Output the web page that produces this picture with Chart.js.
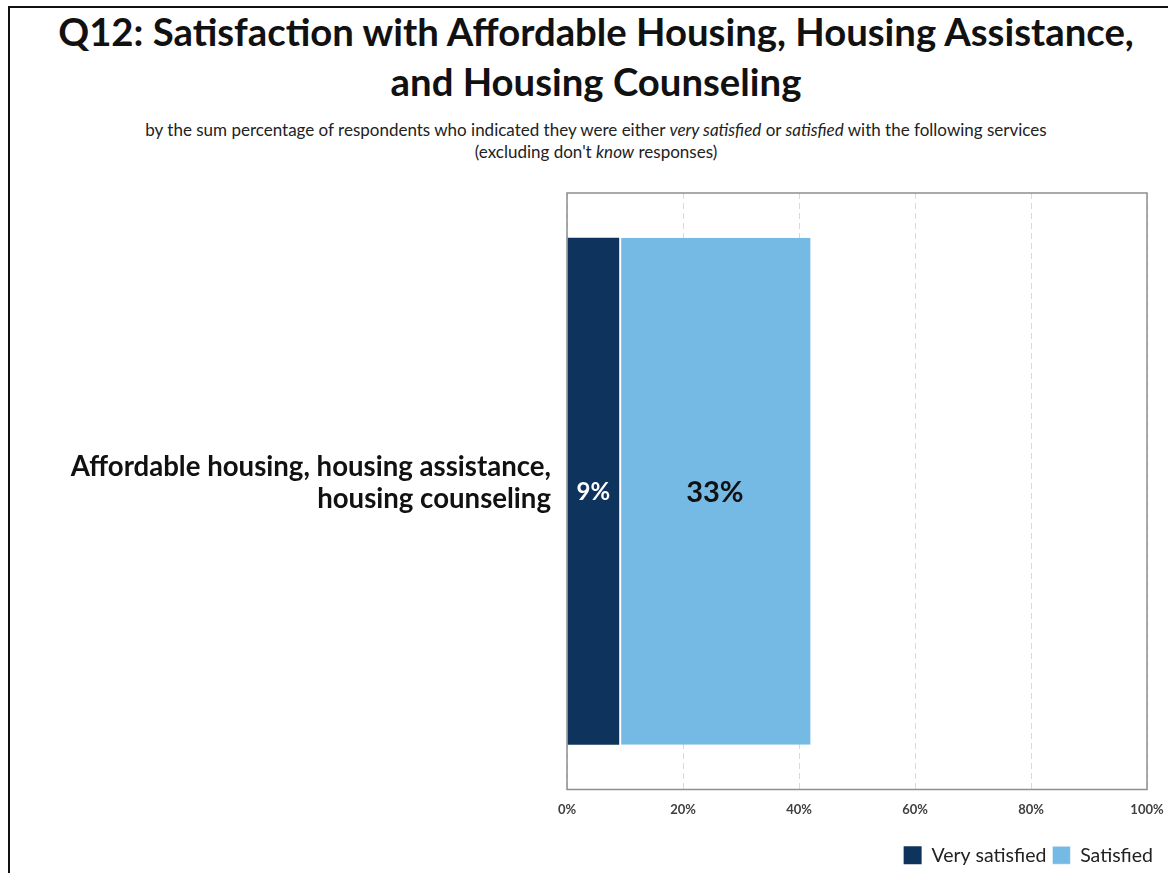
<!DOCTYPE html>
<html>
<head>
<meta charset="utf-8">
<script src="https://cdn.jsdelivr.net/npm/chart.js@4"></script>
<style>
  html, body { margin: 0; padding: 0; background: #fff; overflow: hidden; }
  body { width: 1168px; height: 873px; position: relative; font-family: Lato, "Open Sans", sans-serif; }
  .frame {
    position: absolute; left: 8px; top: 6px; width: 1176px; height: 900px;
    border-top: 2px solid #111; border-left: 2px solid #111; box-sizing: border-box;
  }
  .title {
    position: absolute; left: 8px; width: 1176px; top: 6px; text-align: center;
    font-weight: bold; font-size: 38.3px; line-height: 50px; color: #111;
  }
  .subtitle {
    position: absolute; left: 8px; width: 1176px; top: 119px; text-align: center;
    font-size: 17px; line-height: 22px; color: #222;
  }
  #wrap { position: absolute; left: 0; top: 0; width: 1168px; height: 873px; }
</style>
</head>
<body>
<div class="frame"></div>
<div class="title">Q12: Satisfaction with Affordable Housing, Housing Assistance,<br>and Housing Counseling</div>
<div class="subtitle">by the sum percentage of respondents who indicated they were either <i>very satisfied</i> or <i>satisfied</i> with the following services<br>(excluding don't <i>know</i> responses)</div>
<div id="wrap"><canvas id="satChart"></canvas></div>
<script>
// Survey result, percent of respondents
const categories = [['Affordable housing, housing assistance,', 'housing counseling']];
const seriesNames = ['Very satisfied', 'Satisfied'];
const verySatisfied = [9];
const satisfied = [33];
const tickValues = [0, 20, 40, 60, 80, 100];

const colors = ['#0E345D', '#75BAE5'];

// Grey frame round the plot area
const plotFrame = {
    id: 'plotFrame',
    afterDraw(chart) {
        const a = chart.chartArea;
        const ctx = chart.ctx;
        ctx.save();
        ctx.strokeStyle = '#8f8f8f';
        ctx.lineWidth = 1.5;
        ctx.strokeRect(a.left, a.top, a.right - a.left, a.bottom - a.top);
        ctx.restore();
    }
};

// Legend sits a little further right and lower than the plot edge
const legendShift = {
    id: 'legendShift',
    afterLayout(chart) {
        const l = chart.legend;
        if (l) {
            l.left += 12;
            l.right += 12;
            l.top += 2;
            l.bottom += 2;
        }
    }
};

// Percent labels in the middle of each segment
const barLabels = {
    id: 'barLabels',
    afterDatasetsDraw(chart) {
        const ctx = chart.ctx;
        chart.data.datasets.forEach((ds, i) => {
            chart.getDatasetMeta(i).data.forEach((bar, j) => {
                const v = ds.data[j];
                const cx = (bar.x + bar.base) / 2;
                ctx.save();
                ctx.fillStyle = i === 0 ? '#ffffff' : '#111111';
                ctx.font = 'bold ' + (i === 0 ? 24 : 29) + 'px Lato, "Open Sans", sans-serif';
                ctx.textAlign = 'center';
                ctx.textBaseline = 'middle';
                ctx.fillText(Math.round(v) + '%', cx, bar.y + 1);
                ctx.restore();
            });
        });
    }
};

const ctx = document.getElementById('satChart').getContext('2d');
new Chart(ctx, {
    type: 'bar',
    data: {
        labels: categories,
        datasets: [{
            label: seriesNames[0],
            data: verySatisfied,
            backgroundColor: colors[0],
            borderWidth: 0,
            categoryPercentage: 1,
            barPercentage: 0.85
        }, {
            label: seriesNames[1],
            data: satisfied,
            backgroundColor: colors[1],
            borderColor: '#ffffff',
            borderWidth: { left: 2, right: 0, top: 0, bottom: 0 },
            borderSkipped: false,
            categoryPercentage: 1,
            barPercentage: 0.85
        }]
    },
    options: {
        indexAxis: 'y',
        responsive: true,
        maintainAspectRatio: false,
        animation: false,
        layout: { padding: { top: 193, right: 21, left: 0, bottom: 0 } },
        scales: {
            x: {
                stacked: true,
                min: 0,
                max: 100,
                afterBuildTicks(scale) {
                    scale.ticks = tickValues.map(v => ({ value: v }));
                },
                afterFit(scale) {
                    scale.height = 48;
                    scale.paddingLeft = 0;
                    scale.paddingRight = 0;
                },
                ticks: {
                    callback: v => v + '%',
                    color: '#404040',
                    font: { family: 'Lato, "Open Sans", sans-serif', size: 13, weight: 'bold' },
                    padding: 13,
                    maxRotation: 0
                },
                grid: {
                    color: '#d9d9d9',
                    lineWidth: 1,
                    drawTicks: false
                },
                border: { display: false, dash: [6, 4] }
            },
            y: {
                stacked: true,
                afterFit(scale) { scale.width = 567; },
                ticks: {
                    color: '#111111',
                    font: { family: 'Lato, "Open Sans", sans-serif', size: 27.6, weight: 'bold', lineHeight: 1.16 },
                    padding: 8,
                    labelOffset: -8
                },
                grid: { display: false },
                border: { display: false }
            }
        },
        plugins: {
            legend: {
                position: 'bottom',
                align: 'end',
                labels: {
                    boxWidth: 18,
                    boxHeight: 18,
                    padding: 6,
                    color: '#222222',
                    font: { family: 'Lato, "Open Sans", sans-serif', size: 19.5 }
                }
            },
            tooltip: { enabled: false }
        }
    },
    plugins: [plotFrame, barLabels, legendShift]
});
</script>
</body>
</html>
